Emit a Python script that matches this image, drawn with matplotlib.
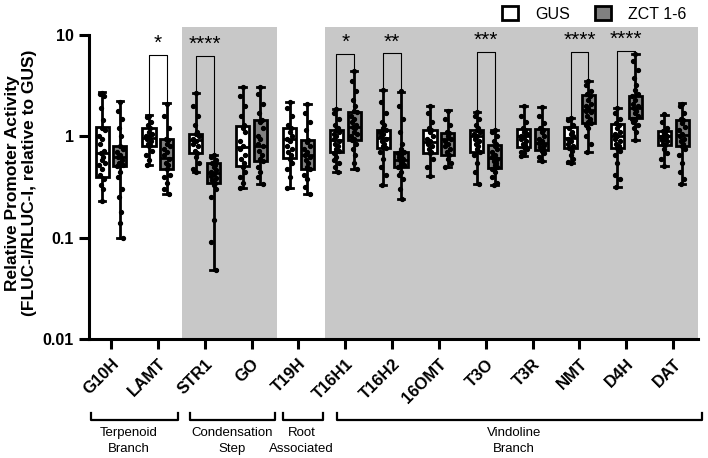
import matplotlib
matplotlib.use("Agg")
import matplotlib.pyplot as plt
from matplotlib.patches import Patch
import numpy as np

plt.rcParams['font.family'] = ['Liberation Sans', 'DejaVu Sans']

genes = ["G10H", "LAMT", "STR1", "GO", "T19H", "T16H1", "T16H2", "16OMT",
         "T3O", "T3R", "NMT", "D4H", "DAT"]

# box statistics (min, q1, median, q3, max)
gus_min = [0.23, 0.52, 0.45, 0.31, 0.31, 0.45, 0.33, 0.41, 0.34, 0.64, 0.55, 0.32, 0.51]
gus_q1  = [0.40, 0.81, 0.69, 0.51, 0.61, 0.71, 0.77, 0.68, 0.71, 0.79, 0.77, 0.77, 0.83]
gus_med = [0.69, 0.96, 0.93, 0.79, 0.95, 0.93, 0.96, 0.89, 1.00, 1.00, 0.96, 1.02, 1.00]
gus_q3  = [1.24, 1.20, 1.05, 1.28, 1.21, 1.16, 1.16, 1.16, 1.16, 1.19, 1.23, 1.32, 1.12]
gus_max = [2.74, 1.64, 2.71, 3.10, 2.21, 1.86, 2.88, 2.00, 1.76, 2.00, 1.52, 1.89, 1.64]

zct_min = [0.10, 0.27, 0.048, 0.34, 0.27, 0.48, 0.24, 0.50, 0.33, 0.57, 0.71, 0.93, 0.34]
zct_q1  = [0.51, 0.48, 0.35, 0.57, 0.48, 0.93, 0.50, 0.66, 0.49, 0.74, 1.36, 1.52, 0.80]
zct_med = [0.62, 0.61, 0.44, 0.81, 0.66, 1.24, 0.58, 0.94, 0.61, 0.86, 1.83, 1.93, 1.04]
zct_q3  = [0.80, 0.94, 0.55, 1.44, 0.93, 1.76, 0.70, 1.08, 0.83, 1.19, 2.57, 2.52, 1.46]
zct_max = [2.23, 2.13, 0.66, 3.10, 2.08, 4.44, 2.78, 1.83, 1.15, 1.95, 3.54, 6.53, 2.13]

gus_points = [
    [2.7, 2.6, 2.5, 1.9, 1.45, 1.2, 1.15, 1.0, 0.95, 0.85, 0.72, 0.68, 0.62, 0.58, 0.55, 0.52, 0.48, 0.42, 0.38, 0.33, 0.3, 0.23],
    [1.6, 1.55, 1.4, 1.3, 1.2, 1.1, 1.05, 1.0, 0.98, 0.95, 0.9, 0.85, 0.82, 0.8, 0.72, 0.65, 0.58, 0.52],
    [2.7, 2.0, 1.6, 1.3, 1.1, 1.05, 1.0, 0.95, 0.9, 0.85, 0.8, 0.72, 0.68, 0.62, 0.55, 0.48, 0.45],
    [3.1, 2.5, 2.0, 1.6, 1.3, 1.2, 1.1, 0.9, 0.8, 0.75, 0.65, 0.6, 0.55, 0.5, 0.45, 0.4, 0.35, 0.31],
    [2.2, 1.9, 1.6, 1.3, 1.2, 1.1, 1.0, 0.95, 0.9, 0.8, 0.75, 0.7, 0.65, 0.6, 0.55, 0.48, 0.4, 0.31],
    [1.85, 1.7, 1.5, 1.3, 1.2, 1.15, 1.1, 1.05, 1.0, 0.95, 0.9, 0.85, 0.8, 0.75, 0.72, 0.68, 0.62, 0.58, 0.55, 0.5, 0.45],
    [2.9, 2.2, 1.7, 1.4, 1.3, 1.2, 1.15, 1.1, 1.05, 1.0, 0.95, 0.9, 0.85, 0.8, 0.77, 0.7, 0.6, 0.5, 0.42, 0.33],
    [2.0, 1.7, 1.4, 1.2, 1.15, 1.1, 1.0, 0.95, 0.9, 0.85, 0.8, 0.75, 0.7, 0.68, 0.6, 0.5, 0.41],
    [1.75, 1.6, 1.5, 1.3, 1.2, 1.15, 1.1, 1.05, 1.0, 0.95, 0.9, 0.85, 0.8, 0.75, 0.71, 0.65, 0.55, 0.45, 0.34],
    [2.0, 1.6, 1.4, 1.2, 1.15, 1.1, 1.05, 1.0, 0.98, 0.95, 0.9, 0.85, 0.82, 0.79, 0.75, 0.7, 0.68, 0.64],
    [1.52, 1.45, 1.3, 1.2, 1.1, 1.05, 1.0, 0.95, 0.9, 0.85, 0.8, 0.77, 0.72, 0.65, 0.6, 0.56, 0.55],
    [1.9, 1.7, 1.5, 1.35, 1.3, 1.2, 1.1, 1.05, 1.0, 0.95, 0.9, 0.85, 0.8, 0.77, 0.72, 0.65, 0.55, 0.42, 0.38, 0.32],
    [1.65, 1.4, 1.2, 1.12, 1.1, 1.05, 1.0, 0.98, 0.95, 0.92, 0.9, 0.85, 0.83, 0.75, 0.68, 0.6, 0.51],
]
zct_points = [
    [2.2, 1.8, 1.5, 1.2, 1.0, 0.8, 0.75, 0.7, 0.66, 0.62, 0.58, 0.55, 0.54, 0.53, 0.52, 0.51, 0.45, 0.4, 0.3, 0.25, 0.18, 0.14, 0.1],
    [2.1, 1.6, 1.2, 0.95, 0.92, 0.85, 0.8, 0.75, 0.7, 0.65, 0.6, 0.55, 0.52, 0.48, 0.42, 0.4, 0.35, 0.3, 0.27],
    [0.66, 0.62, 0.58, 0.55, 0.52, 0.5, 0.47, 0.45, 0.43, 0.41, 0.39, 0.37, 0.35, 0.33, 0.3, 0.25, 0.15, 0.09, 0.048],
    [3.1, 2.6, 2.1, 1.7, 1.45, 1.4, 1.2, 1.0, 0.95, 0.85, 0.8, 0.72, 0.65, 0.6, 0.57, 0.5, 0.45, 0.4, 0.34],
    [2.1, 1.7, 1.4, 1.15, 0.93, 0.88, 0.8, 0.75, 0.7, 0.66, 0.62, 0.58, 0.55, 0.5, 0.48, 0.42, 0.38, 0.32, 0.27],
    [4.4, 3.5, 2.8, 2.3, 2.0, 1.8, 1.75, 1.6, 1.5, 1.4, 1.3, 1.25, 1.2, 1.1, 1.05, 1.0, 0.95, 0.93, 0.85, 0.75, 0.65, 0.55, 0.48],
    [2.8, 2.0, 1.5, 1.1, 0.85, 0.75, 0.7, 0.68, 0.65, 0.62, 0.6, 0.58, 0.56, 0.54, 0.52, 0.5, 0.45, 0.42, 0.38, 0.3, 0.24],
    [1.8, 1.5, 1.3, 1.1, 1.08, 1.0, 0.95, 0.9, 0.85, 0.8, 0.75, 0.7, 0.66, 0.6, 0.55, 0.5],
    [1.15, 1.1, 1.0, 0.9, 0.85, 0.8, 0.75, 0.7, 0.65, 0.62, 0.6, 0.57, 0.55, 0.52, 0.5, 0.48, 0.45, 0.4, 0.35, 0.33],
    [1.95, 1.6, 1.35, 1.2, 1.15, 1.1, 1.0, 0.95, 0.9, 0.86, 0.82, 0.78, 0.75, 0.72, 0.68, 0.62, 0.57],
    [3.5, 3.2, 2.8, 2.6, 2.5, 2.3, 2.1, 2.0, 1.9, 1.8, 1.75, 1.6, 1.5, 1.4, 1.35, 1.3, 1.2, 1.0, 0.85, 0.71],
    [6.5, 5.5, 4.5, 3.8, 3.2, 2.9, 2.6, 2.5, 2.3, 2.1, 2.0, 1.9, 1.8, 1.7, 1.6, 1.5, 1.45, 1.4, 1.3, 1.2, 1.1, 0.93],
    [2.1, 2.0, 1.7, 1.5, 1.45, 1.35, 1.25, 1.15, 1.05, 1.0, 0.95, 0.9, 0.85, 0.8, 0.75, 0.65, 0.55, 0.45, 0.38, 0.34],
]

# significance annotations
sig_genes = ["LAMT", "STR1", "T16H1", "T16H2", "T3O", "NMT", "D4H"]
sig_labels = ["*", "****", "*", "**", "***", "****", "****"]
sig_top = [6.4, 6.3, 6.5, 6.6, 6.9, 6.9, 7.0]

groups = ["Terpenoid\nBranch", "Condensation\nStep", "Root\nAssociated", "Vindoline\nBranch"]
group_spans = [(-0.43, 1.43), (1.69, 3.50), (3.67, 4.53), (4.83, 12.61)]
group_text_x = [0.38, 2.58, 4.07, 8.6]
shade_spans = [(1.52, 3.55), (4.57, 12.6)]

series_names = ["GUS", "ZCT 1-6"]
series_colors = ["white", "#808080"]

fig = plt.figure(figsize=(7.08, 4.58), dpi=100)
ax = fig.add_axes([89/708, (458-339)/458, (698-89)/708, (339-27)/458])
ax.set_yscale("log")
ax.set_ylim(0.01, 12.05)
ax.set_xlim(-0.47, 12.53)

for a, b in shade_spans:
    ax.axvspan(a, b, color="#c8c8c8", lw=0, zorder=0)

off = 0.19
bw = 0.28
jit = [0.0, -0.05, 0.05, -0.025, 0.025, 0.0, 0.06, -0.06]
lw = 2.0
for s, (mins, q1s, meds, q3s, maxs, pts) in enumerate([
        (gus_min, gus_q1, gus_med, gus_q3, gus_max, gus_points),
        (zct_min, zct_q1, zct_med, zct_q3, zct_max, zct_points)]):
    stats = []
    positions = []
    for i in range(len(genes)):
        stats.append(dict(whislo=mins[i], q1=q1s[i], med=meds[i], q3=q3s[i],
                          whishi=maxs[i], fliers=[]))
        positions.append(i + (off if s else -off))
    ax.bxp(stats, positions=positions, widths=bw, patch_artist=True,
           showfliers=False,
           boxprops=dict(facecolor=series_colors[s], edgecolor="black", linewidth=lw),
           medianprops=dict(color="black", linewidth=lw),
           whiskerprops=dict(color="black", linewidth=lw),
           capprops=dict(color="black", linewidth=lw), capwidths=bw * 0.5,
           zorder=3)
    for i, p in enumerate(pts):
        xs = [positions[i] + jit[k % len(jit)] for k in range(len(p))]
        ax.plot(xs, p, "o", color="black", ms=2.8, zorder=4)

# significance brackets
for g, lab, top in zip(sig_genes, sig_labels, sig_top):
    i = genes.index(g)
    x1, x2 = i - off, i + off
    ax.plot([x1, x1, x2, x2], [gus_max[i], top, top, zct_max[i]],
            color="black", lw=0.8, zorder=5)
    ax.text(i, top * 1.30, lab, ha="center", va="center", fontsize=15)

# axes styling
for sp in ["top", "right"]:
    ax.spines[sp].set_visible(False)
ax.spines["left"].set_linewidth(2.2)
ax.spines["bottom"].set_linewidth(2.2)
ax.spines["left"].set_bounds(0.01, 10)
ax.set_yticks([0.01, 0.1, 1, 10])
ax.set_yticklabels(["0.01", "0.1", "1", "10"], fontweight="bold", fontsize=11.5)
ax.yaxis.set_minor_locator(matplotlib.ticker.NullLocator())
ax.set_xticks(range(len(genes)))
ax.set_xticklabels(genes, rotation=45, ha="right", rotation_mode="anchor",
                   fontweight="bold", fontsize=12)
ax.tick_params(axis="both", width=2.2, length=7.5)
ax.tick_params(axis="x", pad=5)
ax.set_ylabel("Relative Promoter Activity\n(FLUC-I/RLUC-I, relative to GUS)",
              fontweight="bold", fontsize=12.5, labelpad=4)

# group brackets under x axis
tr = matplotlib.transforms.blended_transform_factory(ax.transData, ax.transAxes)
for (a, b), name, tx in zip(group_spans, groups, group_text_x):
    ax.plot([a, a, b, b], [-0.237, -0.26, -0.26, -0.237], color="black",
            lw=1.6, transform=tr, clip_on=False)
    ax.text(tx, -0.283, name, ha="center", va="top", fontsize=9.5,
            transform=tr, linespacing=1.4)

handles = [Patch(facecolor=c, edgecolor="black", linewidth=2.0) for c in series_colors]
fig.legend(handles, series_names, loc="upper right", bbox_to_anchor=(0.99, 1.018),
           ncol=2, frameon=False, fontsize=11.5, handlelength=1.0, handleheight=1.0,
           columnspacing=1.6, handletextpad=1.05)

fig.savefig("out.png", dpi=100)
